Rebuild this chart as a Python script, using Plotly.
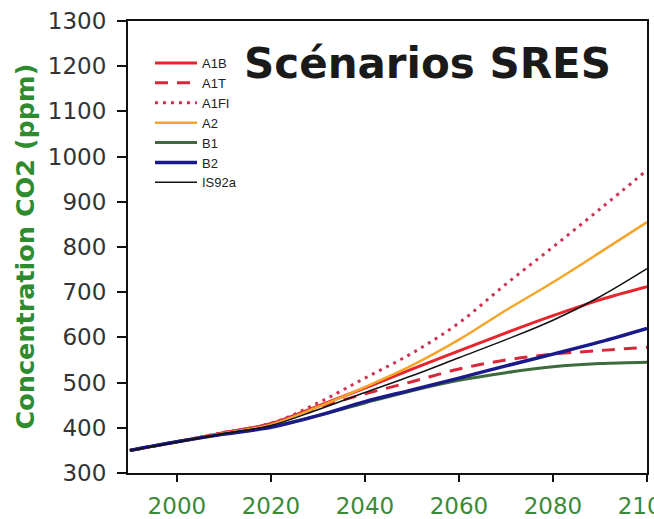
import plotly.graph_objects as go

years = [1990, 2000, 2010, 2020, 2030, 2040, 2050, 2060, 2070, 2080, 2090, 2100]
a1b = [350, 369, 389, 409, 448, 488, 530, 570, 610, 648, 683, 712]
a1t = [350, 369, 389, 409, 445, 475, 502, 530, 550, 563, 571, 578]
a1fi = [350, 369, 390, 410, 455, 510, 565, 632, 718, 800, 884, 970]
a2 = [350, 369, 388, 407, 446, 490, 538, 595, 660, 722, 788, 855]
b1 = [350, 369, 386, 402, 427, 455, 482, 505, 522, 535, 542, 545]
b2 = [350, 369, 386, 401, 427, 458, 484, 510, 537, 563, 590, 620]
is92a = [350, 368, 387, 405, 440, 478, 515, 555, 595, 638, 690, 752]

series = [
    ("A1B", a1b, "#e8242c", 3, "solid"),
    ("A1T", a1t, "#d6283a", 3, "13px,9px"),
    ("A1FI", a1fi, "#cc3355", 3, "3px,5px"),
    ("A2", a2, "#f5a62a", 2.5, "solid"),
    ("B1", b1, "#3d6b3d", 3, "solid"),
    ("B2", b2, "#1a1a8c", 3.5, "solid"),
    ("IS92a", is92a, "#111111", 1.5, "solid"),
]

x_ticks = [2000, 2020, 2040, 2060, 2080, 2100]
y_ticks = [300, 400, 500, 600, 700, 800, 900, 1000, 1100, 1200, 1300]

fig = go.Figure()
for name, vals, color, w, dash in series:
    fig.add_trace(go.Scatter(
        x=years, y=vals, name=name, mode="lines",
        line=dict(color=color, width=w, dash=dash, shape="spline"),
        hoverinfo="skip",
    ))

L, R, T, B = 128, 7, 21, 46
W, H = 654, 519
pw = W - L - R
ph = H - T - B

fig.update_layout(
    width=W, height=H, autosize=False,
    margin=dict(l=L, r=R, t=T, b=B, pad=0, autoexpand=False),
    paper_bgcolor="white", plot_bgcolor="white",
    showlegend=True,
    legend=dict(
        x=(150 - L) / pw, y=(H - B - 48) / ph, xanchor="left", yanchor="top",
        bgcolor="rgba(0,0,0,0)", borderwidth=0,
        font=dict(family="Liberation Sans Narrow, Liberation Sans, Arial", size=13, color="#222222"),
        itemwidth=42, tracegroupgap=0,
    ),
    xaxis=dict(
        range=[1989.6, 2100], tickvals=x_ticks, ticktext=[str(v) for v in x_ticks],
        showgrid=False, zeroline=False, automargin=False,
        showline=True, linecolor="#111111", linewidth=2, mirror=True,
        ticks="outside", ticklen=7, tickwidth=2, tickcolor="#111111",
        tickfont=dict(family="DejaVu Sans", size=23, color="#3a8a3a"),
        ticklabelstandoff=4, ticklabeloverflow="allow",
    ),
    yaxis=dict(
        range=[300, 1300], tickvals=y_ticks,
        showgrid=False, zeroline=False, automargin=False,
        showline=True, linecolor="#111111", linewidth=2, mirror=True,
        ticks="outside", ticklen=9, tickwidth=2, tickcolor="#111111",
        tickfont=dict(family="DejaVu Sans", size=23, color="#333333"),
        ticklabelstandoff=6,
    ),
    annotations=[
        dict(text="Concentration CO2 (ppm)", xref="paper", yref="paper",
             x=(24.5 - L) / pw, y=0.5, xanchor="center", yanchor="middle",
             textangle=-90, showarrow=False,
             font=dict(family="DejaVu Sans", size=25.5, color="#2e8b2e", weight="bold")),
        dict(text="Scénarios SRES", xref="paper", yref="paper",
             x=(427.5 - L) / pw, y=(H - B - 63) / ph, xanchor="center", yanchor="middle",
             showarrow=False,
             font=dict(family="DejaVu Sans", size=42, color="#1a1a1a", weight="bold")),
    ],
)

fig.write_html(
    "out.html",
    config={"displayModeBar": False, "responsive": False},
    post_script="document.body.style.margin='0';document.body.style.overflow='hidden';",
)
